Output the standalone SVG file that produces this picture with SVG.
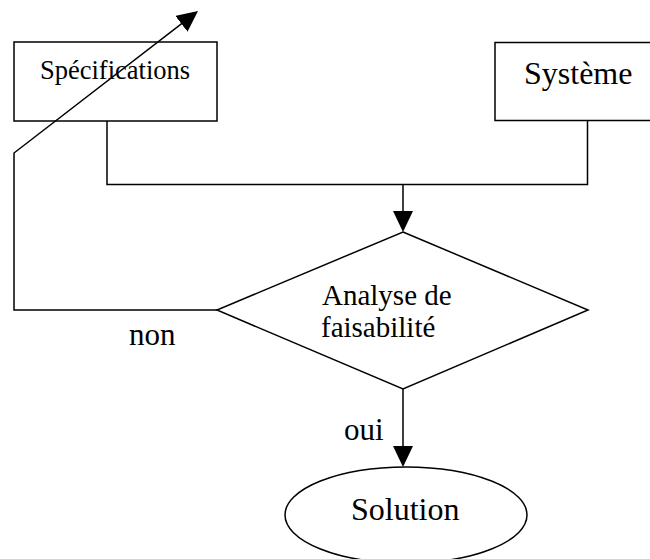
<svg xmlns="http://www.w3.org/2000/svg" width="650" height="559" viewBox="0 0 650 559">
  <style>
    .shape { fill: #ffffff; stroke: #000000; stroke-width: 1.5; }
    .wire { fill: none; stroke: #000000; stroke-width: 1.5; }
    .label { font-family: "Liberation Serif", "Times New Roman", serif; fill: #000000; }
  </style>
  <defs>
    <marker id="arrow" viewBox="0 0 21 20" refX="11" refY="10" markerWidth="21" markerHeight="20" markerUnits="userSpaceOnUse" orient="auto">
      <path d="M0,0 L21,10 L0,20 Z" fill="#000000"/>
    </marker>
  </defs>

  <rect width="650" height="559" fill="#ffffff"/>

  <g id="specifications">
    <rect class="shape" x="14" y="42" width="203" height="79"/>
    <text class="label" x="40" y="78.5" font-size="26.5">Spécifications</text>
  </g>

  <g id="systeme">
    <rect class="shape" x="495" y="42.5" width="170" height="78"/>
    <text class="label" x="524" y="83.5" font-size="32">Système</text>
  </g>

  <g id="analyse">
    <polygon class="shape" points="403,232 588,310 403,389 217,310"/>
    <text class="label" x="322" y="305" font-size="29">Analyse de</text>
    <text class="label" x="321" y="336.5" font-size="29">faisabilité</text>
  </g>

  <g id="solution">
    <ellipse class="shape" cx="406" cy="515" rx="121" ry="48"/>
    <text class="label" x="351" y="520" font-size="32">Solution</text>
  </g>

  <g id="branch-labels">
    <text class="label" x="129" y="345" font-size="31">non</text>
    <text class="label" x="344" y="440" font-size="31">oui</text>
  </g>

  <!-- connectors, drawn over the boxes so the return line crosses the specifications box -->
  <g id="connectors">
    <!-- merge of the two inputs into the decision -->
    <path class="wire" d="M107,121 V184.5 H587.5 V120.5"/>
    <path class="wire" d="M403,184.5 V222" marker-end="url(#arrow)"/>
    <!-- "non" loop back to the specifications -->
    <path class="wire" d="M217,310 H14 V153 L190.1,17.1" marker-end="url(#arrow)"/>
    <!-- "oui" branch to the solution -->
    <path class="wire" d="M403,389 V457" marker-end="url(#arrow)"/>
  </g>
</svg>
